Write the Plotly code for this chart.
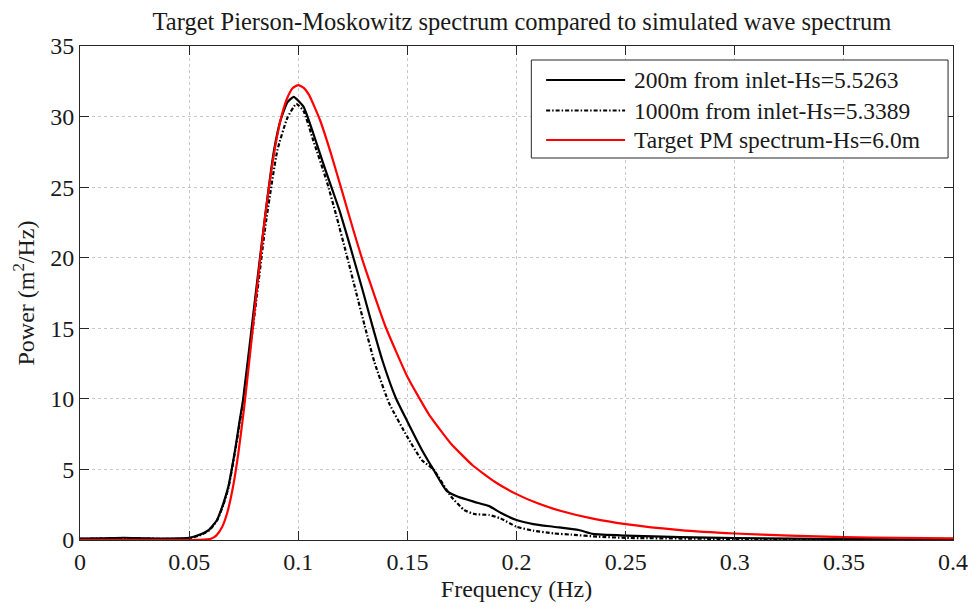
import plotly.graph_objects as go

# ---------------- data ----------------
freq_200 = [0, 0.01, 0.02, 0.03, 0.04, 0.05, 0.0544, 0.0589, 0.0627, 0.0657, 0.068, 0.0695,
            0.0713, 0.0732, 0.0747, 0.08, 0.085, 0.0889, 0.0918, 0.095, 0.0979, 0.1024, 0.1069,
            0.1114, 0.1152, 0.119, 0.1238, 0.1295, 0.1341, 0.1386, 0.1446, 0.15, 0.1566, 0.1619,
            0.1679, 0.1732, 0.1807, 0.1875, 0.1927, 0.2, 0.2077, 0.2168, 0.2285, 0.235, 0.25,
            0.275, 0.3, 0.35, 0.4]
power_200 = [0.1, 0.12, 0.16, 0.12, 0.1, 0.15, 0.35, 0.7, 1.4, 2.6, 3.8, 5.0,
             6.6, 8.5, 9.9, 16.8, 23.2, 27.6, 29.7, 31.0, 31.4, 30.7, 28.8,
             26.7, 25.0, 23.3, 20.8, 17.7, 15.1, 12.7, 10.1, 8.4, 6.4, 5.0,
             3.5, 3.06, 2.7, 2.4, 1.93, 1.42, 1.13, 0.94, 0.71, 0.43, 0.31,
             0.2, 0.14, 0.07, 0.05]

freq_1000 = [0, 0.01, 0.02, 0.03, 0.04, 0.05, 0.0544, 0.0589, 0.0627, 0.0657, 0.068, 0.0695,
             0.0713, 0.0732, 0.0747, 0.08, 0.085, 0.0904, 0.095, 0.0991, 0.1024, 0.1069, 0.1129,
             0.1174, 0.122, 0.1266, 0.1304, 0.1349, 0.1416, 0.15, 0.1566, 0.1619, 0.1701, 0.1761,
             0.1807, 0.1875, 0.1927, 0.2, 0.2077, 0.2168, 0.225, 0.237, 0.25, 0.3, 0.35, 0.4]
power_1000 = [0.08, 0.1, 0.12, 0.1, 0.08, 0.12, 0.3, 0.65, 1.35, 2.5, 3.7, 4.9,
              6.5, 8.3, 9.7, 16.0, 22.3, 27.6, 29.9, 30.9, 30.4, 28.3, 25.5,
              23.0, 20.3, 17.5, 15.2, 12.6, 9.7, 7.3, 5.66, 5.0, 3.06, 2.12,
              1.84, 1.77, 1.53, 0.94, 0.66, 0.47, 0.38, 0.24, 0.15, 0.07, 0.04, 0.03]

freq_pm = [0, 0.02, 0.04, 0.055, 0.06, 0.0625, 0.065, 0.0675, 0.07, 0.0725, 0.075, 0.0775,
           0.08, 0.0825, 0.085, 0.0875, 0.09, 0.0925, 0.095, 0.0975, 0.1, 0.1025, 0.105, 0.11,
           0.115, 0.12, 0.125, 0.13, 0.14, 0.15, 0.16, 0.17, 0.18, 0.19, 0.2, 0.21, 0.22,
           0.235, 0.25, 0.275, 0.3, 0.325, 0.35, 0.375, 0.4]
power_pm = [0, 0, 0, 0.01, 0.09, 0.33, 0.88, 1.95, 3.68, 6.09, 9.12, 12.58,
            16.23, 19.81, 23.13, 26.00, 28.35, 30.13, 31.33, 32.02, 32.23, 32.04, 31.52, 29.74,
            27.37, 24.75, 22.09, 19.56, 15.11, 11.57, 8.87, 6.82, 5.28, 4.13, 3.25, 2.58, 2.07,
            1.51, 1.12, 0.70, 0.46, 0.31, 0.21, 0.15, 0.11]

series_names = ["200m from inlet-Hs=5.5263", "1000m from inlet-Hs=5.3389",
                "Target PM spectrum-Hs=6.0m"]

x_ticks = [0, 0.05, 0.1, 0.15, 0.2, 0.25, 0.3, 0.35, 0.4]
x_tick_labels = ["0", "0.05", "0.1", "0.15", "0.2", "0.25", "0.3", "0.35", "0.4"]
y_ticks = [0, 5, 10, 15, 20, 25, 30, 35]
y_tick_labels = ["0", "5", "10", "15", "20", "25", "30", "35"]

# ---------------- styles ----------------
FONT = "Liberation Serif"
TXT = "#1a1a1a"
line_styles = [dict(color="black", width=2.2, dash="solid"),
               dict(color="black", width=2.2, dash="4px,2px,1.5px,2px"),
               dict(color="#ff0000", width=2.2, dash="solid")]

fig = go.Figure()
for fx, fy, name, ls in zip([freq_200, freq_1000, freq_pm],
                            [power_200, power_1000, power_pm],
                            series_names, line_styles):
    fig.add_trace(go.Scatter(x=fx, y=fy, mode="lines", name=name,
                             line=dict(shape="spline", smoothing=0.45, **ls),
                             showlegend=False))

# ---------------- custom MATLAB-like legend ----------------
L = 80; R = 16; T = 46; B = 70
W = 980; H = 610
pw = W - L - R; ph = H - T - B

def px2x(px):
    return (px - L) / pw

def py2y(py):
    return (H - B - py) / ph

fig.add_shape(type="rect", xref="paper", yref="paper",
              x0=px2x(537), x1=px2x(959), y0=py2y(158), y1=py2y(60),
              line=dict(color="#262626", width=1), fillcolor="white", layer="above")
row_py = [80, 110.5, 140]
for i, (name, ls) in enumerate(zip(series_names, line_styles)):
    fig.add_shape(type="line", xref="paper", yref="paper",
                  x0=px2x(552), x1=px2x(632), y0=py2y(row_py[i]), y1=py2y(row_py[i]),
                  line=dict(color=ls["color"], width=ls["width"], dash=ls["dash"]),
                  layer="above")
    fig.add_annotation(xref="paper", yref="paper", x=px2x(639), y=py2y(row_py[i]),
                       text=name, showarrow=False, xanchor="left", yanchor="middle",
                       font=dict(family=FONT, size=23.5, color=TXT))

axis_common = dict(showline=True, linecolor="#262626", linewidth=1, mirror="allticks",
                   ticks="inside", ticklen=9, tickcolor="#262626",
                   showgrid=True, gridcolor="#c8c8c8", griddash="dot", gridwidth=1,
                   zeroline=False, tickfont=dict(family=FONT, size=24, color=TXT))

fig.update_layout(
    width=W, height=H,
    margin=dict(l=L, r=R, t=T, b=B),
    paper_bgcolor="white", plot_bgcolor="white",
    font=dict(family=FONT, color=TXT),
    title=dict(text="Target Pierson-Moskowitz spectrum compared to simulated wave spectrum",
               x=(L + pw / 2) / W, xanchor="center", y=(H - 21) / H, yanchor="middle",
               font=dict(family=FONT, size=24.5, color=TXT)),
    xaxis=dict(range=[0, 0.4], tickvals=x_ticks, ticktext=x_tick_labels,
               title=dict(text="Frequency (Hz)", font=dict(family=FONT, size=24, color=TXT),
                          standoff=6),
               **axis_common),
    yaxis=dict(range=[0, 35], tickvals=y_ticks, ticktext=y_tick_labels,
               title=dict(text="Power (m<sup>2</sup>/Hz)",
                          font=dict(family=FONT, size=24, color=TXT), standoff=8),
               **axis_common),
)

fig.write_html("out.html")
